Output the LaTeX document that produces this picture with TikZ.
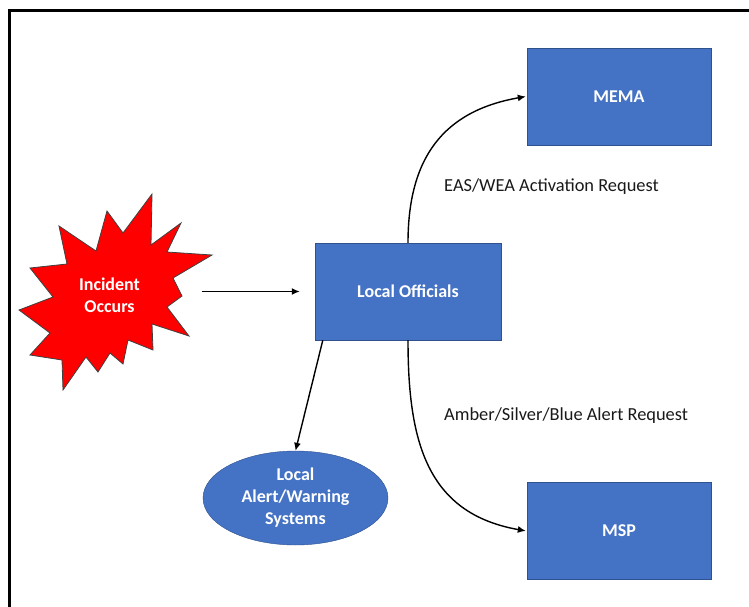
\documentclass[tikz,border=0pt]{standalone}
\usepackage{fontspec}
\setmainfont{Carlito}
\usetikzlibrary{positioning, arrows.meta, shapes.geometric}

\definecolor{officeblue}{HTML}{4472C4}
\definecolor{blueedge}{HTML}{2F528F}
\definecolor{burstred}{HTML}{FF0000}

\begin{document}
\begin{tikzpicture}[x=1pt, y=-1pt,
    box/.style={draw=blueedge, fill=officeblue, text=white, font=\fontsize{18}{22}\selectfont\bfseries,
      minimum width=184pt, minimum height=97pt, inner sep=0pt, align=center},
    flow/.style={-{Latex[length=8pt, width=7pt]}, line width=1.4pt},
    note/.style={font=\fontsize{18.4}{22}\selectfont, text=black!90, anchor=west, inner sep=0pt}]
    \clip (0,0) rectangle (749,607);
    \draw[line width=3pt] (9,650) -- (9,10.5) -- (800,10.5);

    % incident burst
    \filldraw[fill=burstred, draw=black!75, line width=0.8pt]
      (152,194) -- (151,245) -- (181,223) -- (167,252) -- (212,255) -- (173,278)
      -- (182,296) -- (167,307) -- (189,336) -- (152,324) -- (153,350) -- (128,340)
      -- (123,364) -- (110,353) -- (98,372) -- (86,357) -- (63,390) -- (62,360)
      -- (30,355) -- (50,333) -- (19,310) -- (53,297) -- (30,268) -- (67,264)
      -- (59,226) -- (96,251) -- (107,211) -- (123,233) -- cycle;
    \node[text=white, font=\fontsize{18}{22}\selectfont\bfseries, align=center, minimum width=185pt] (incident) at (109.5,295) {Incident\\Occurs};

    \node[box] (mema) at (619,96.5) {MEMA};
    \node[box, below = 337pt of mema] (msp) {MSP};
    \node[box, minimum width=186pt] (officials) at (408,291.5) {Local Officials};
    \node[box, ellipse, minimum width=185pt, minimum height=94pt] (alerts) at (295.5,498) {Local\\Alert/Warning\\Systems};

    \node[note] (eas) at (444,187) {EAS/WEA Activation Request};
    \node[note] (amber) at (444,416) {Amber/Silver/Blue Alert Request};

    \draw[flow] (incident.east |- officials.west) -- ([xshift=-15pt]officials.west);
    \draw[flow] (officials.north) to [out=90, in=190, looseness=1.15] ([xshift=-1pt]mema.west);
    \draw[flow] (officials.south) to [out=270, in=170, looseness=1.15] ([xshift=-1pt]msp.west);
    \draw[flow] ([xshift=8pt]officials.south west) -- (alerts.north);
\end{tikzpicture}
\end{document}
